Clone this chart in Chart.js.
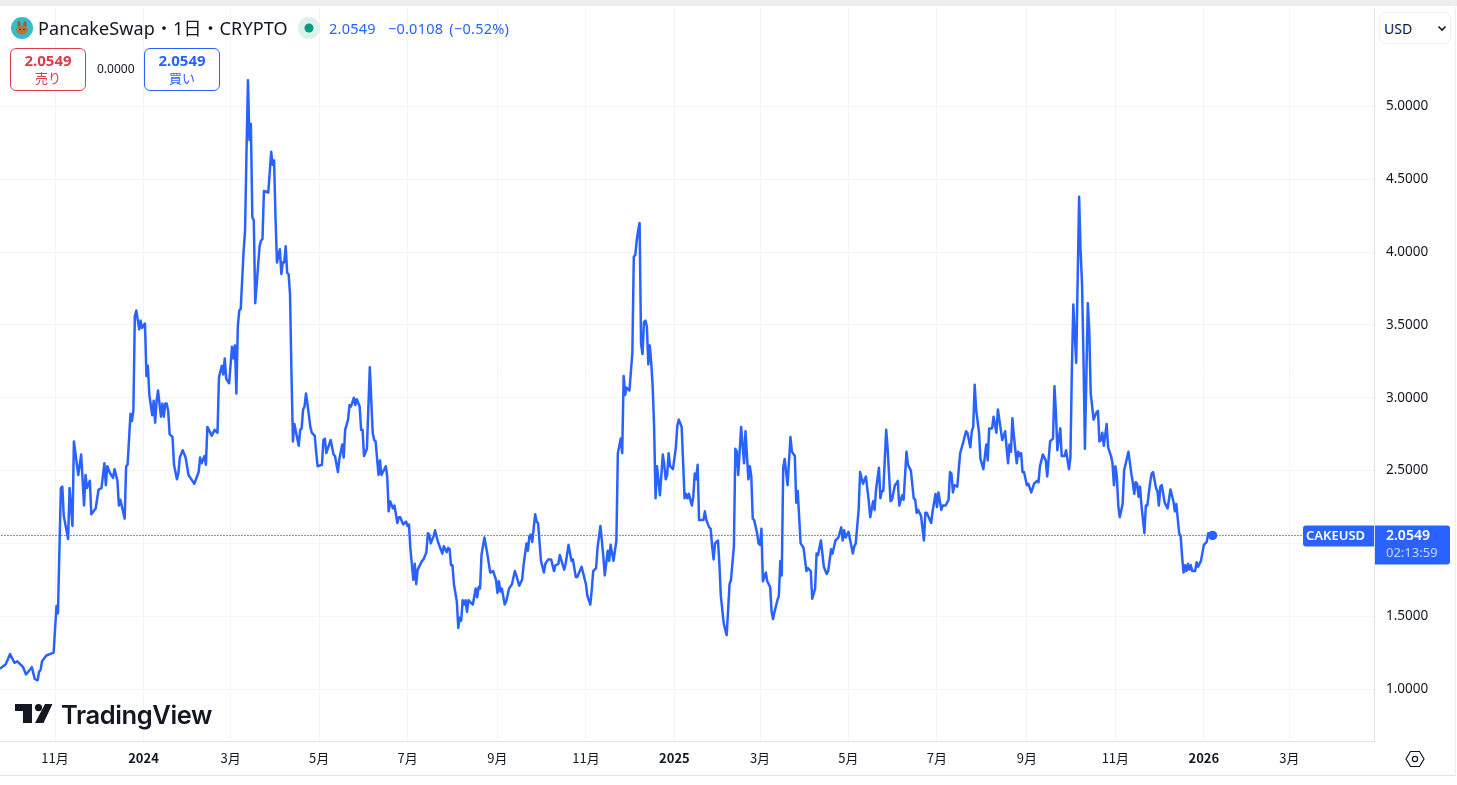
<!DOCTYPE html>
<html lang="ja">
<head>
<meta charset="utf-8">
<title>CAKEUSD</title>
<script src="https://cdn.jsdelivr.net/npm/chart.js@4/dist/chart.umd.min.js"></script>
<style>
  html, body { margin: 0; padding: 0; background: #fff; width: 1457px; height: 785px; overflow: hidden; }
  body { position: relative; font-family: "Noto Sans", "Noto Sans CJK JP", sans-serif; color: #131722; }
  /* the x axis keeps a small left gutter for its first label, so the canvas sits that far off the page */
  canvas { position: absolute; left: -7px; top: 0; }
  .abs { position: absolute; white-space: nowrap; }
  #band { left: 0; top: 0; width: 1457px; height: 6px; background: #eeeeee; }
  #bottom-line { left: 0; top: 775px; width: 1455px; height: 1px; background: #e0e3eb; }
  #right-line { left: 1455px; top: 6px; width: 1px; height: 770px; background: #eeeeee; }
  #title { left: 38px; top: 16px; font-size: 18px; line-height: 24px; letter-spacing: 0.1px; }
  #change { left: 329px; top: 18px; font-size: 14.5px; line-height: 20px; color: #2962ff; word-spacing: 2px; letter-spacing: 0.25px; }
  .box { width: 74px; height: 41px; top: 48px; border-radius: 6px; background: #fff; border: 1px solid; text-align: center; }
  .box b { display: block; font-size: 15px; line-height: 17px; margin-top: 3px; }
  .box span { display: block; font-size: 13px; line-height: 18px; font-family: "Noto Sans CJK JP", sans-serif; }
  #sell { left: 10px; border-color: #dc3d4b; color: #dc3d4b; }
  #buy { left: 144px; border-color: #2962ff; color: #2962ff; }
  #spread { left: 97px; top: 60px; font-size: 12px; line-height: 18px; }
  #usd { left: 1379px; top: 12px; width: 70px; height: 30px; border: 1px solid #eceef2; border-radius: 6px; background: #fff; font-size: 14px; line-height: 32px; text-indent: 4px; }
  #tv { left: 61px; top: 698px; font-family: Inter, sans-serif; font-weight: 600; font-size: 25.5px; line-height: 34px; letter-spacing: -0.4px; color: #131722; }
</style>
</head>
<body>
<canvas id="chart" width="1464" height="785"></canvas>
<div class="abs" id="band"></div>
<div class="abs" id="bottom-line"></div>
<div class="abs" id="right-line"></div>

<svg class="abs" style="left:11px;top:17px" width="22" height="22" viewBox="0 0 22 22">
  <circle cx="11" cy="11" r="11" fill="#34bcc8"/>
  <ellipse cx="8" cy="7.5" rx="1.6" ry="3.5" fill="#9a5f35"/>
  <ellipse cx="14" cy="7.5" rx="1.6" ry="3.5" fill="#9a5f35"/>
  <ellipse cx="11" cy="13" rx="5.8" ry="4.6" fill="#b5763f"/>
  <circle cx="9" cy="12.5" r=".8" fill="#3a2416"/>
  <circle cx="13" cy="12.5" r=".8" fill="#3a2416"/>
</svg>
<div class="abs" id="title">PancakeSwap・1日・CRYPTO</div>
<svg class="abs" style="left:298px;top:17px" width="22" height="22" viewBox="0 0 22 22">
  <circle cx="11" cy="11" r="11" fill="#dcf0ec"/>
  <circle cx="11" cy="11" r="4.5" fill="#089981"/>
</svg>
<div class="abs" id="change">2.0549 &nbsp;−0.0108 (−0.52%)</div>
<div class="abs box" id="sell"><b>2.0549</b><span>売り</span></div>
<div class="abs" id="spread">0.0000</div>
<div class="abs box" id="buy"><b>2.0549</b><span>買い</span></div>
<div class="abs" id="usd">USD</div>
<svg class="abs" style="left:1437px;top:25px" width="10" height="7" viewBox="0 0 10 7">
  <path d="M1.5 1.5 L5 5 L8.5 1.5" fill="none" stroke="#131722" stroke-width="1.6"/>
</svg>

<svg class="abs" style="left:14px;top:703px" width="40" height="22" viewBox="0 0 40 22">
  <path d="M1 1 H18 V20 H9 V8 H1 Z" fill="#131722"/>
  <circle cx="24.5" cy="4.6" r="3.6" fill="#131722"/>
  <path d="M31 1 H38.5 L29.5 20 H21 Z" fill="#131722"/>
</svg>
<div class="abs" id="tv">TradingView</div>

<svg class="abs" style="left:1405px;top:750px" width="20" height="18" viewBox="0 0 20 18">
  <path d="M5.5 1.5 H14.5 L19 9 L14.5 16.5 H5.5 L1 9 Z" fill="none" stroke="#131722" stroke-width="1.2"/>
  <circle cx="10" cy="9" r="2.6" fill="none" stroke="#131722" stroke-width="1.2"/>
</svg>

<script>
// Days since 2024-01-01 at each turning point
const days = [
  -99, -95, -92, -89, -87, -83, -81, -77, -75, -73, -72, -71,
  -70, -67, -62, -60, -59, -57, -56, -55, -52, -51, -49, -48,
  -45, -43, -41, -40, -39, -37, -36, -33, -31, -29, -27, -26,
  -25, -23, -21, -20, -18, -17, -16, -13, -12, -11, -9, -8,
  -7, -6, -5, -3, -2, -1, 1, 2, 3, 4, 6, 7,
  8, 9, 10, 12, 13, 14, 15, 16, 17, 18, 20, 21,
  23, 24, 25, 27, 29, 31, 33, 35, 38, 39, 40, 42,
  43, 44, 47, 49, 51, 52, 54, 55, 56, 57, 59, 61,
  62, 63, 64, 65, 66, 67, 69, 70, 71, 72, 73, 74,
  75, 76, 77, 80, 81, 82, 83, 86, 88, 89, 90, 91,
  92, 94, 95, 96, 97, 98, 99, 100, 101, 102, 103, 104,
  107, 108, 109, 110, 111, 112, 113, 115, 116, 118, 119, 120,
  123, 124, 125, 126, 129, 131, 132, 134, 135, 137, 138, 139,
  141, 142, 143, 145, 146, 147, 149, 150, 151, 152, 154, 156,
  158, 159, 160, 162, 163, 164, 167, 168, 169, 170, 172, 173,
  175, 176, 177, 179, 181, 182, 183, 184, 186, 187, 188, 189,
  192, 193, 195, 196, 197, 198, 200, 201, 203, 206, 207, 209,
  210, 211, 212, 213, 214, 216, 217, 218, 219, 220, 221, 222,
  223, 224, 225, 227, 229, 230, 231, 232, 233, 235, 237, 239,
  241, 243, 244, 245, 246, 247, 249, 250, 252, 254, 256, 257,
  259, 261, 262, 264, 265, 266, 267, 268, 270, 271, 272, 274,
  276, 277, 279, 281, 283, 284, 286, 287, 290, 291, 293, 295,
  296, 298, 299, 302, 303, 305, 306, 308, 309, 310, 312, 313,
  315, 317, 318, 320, 321, 322, 324, 326, 327, 329, 330, 331,
  332, 333, 335, 337, 338, 339, 340, 341, 342, 343, 344, 345,
  346, 347, 348, 349, 350, 351, 352, 353, 354, 356, 358, 359,
  360, 361, 362, 363, 365, 367, 368, 369, 371, 373, 374, 375,
  376, 378, 379, 380, 381, 382, 383, 386, 387, 388, 390, 391,
  392, 393, 394, 396, 397, 398, 400, 402, 403, 404, 405, 407,
  408, 409, 410, 412, 414, 415, 417, 418, 419, 420, 421, 423,
  424, 425, 426, 427, 429, 430, 432, 433, 434, 435, 437, 438,
  439, 440, 441, 442, 444, 446, 447, 449, 450, 451, 453, 455,
  457, 458, 460, 461, 463, 464, 465, 467, 469, 471, 472, 474,
  475, 477, 479, 481, 482, 483, 484, 486, 489, 490, 491, 493,
  494, 496, 498, 500, 501, 503, 504, 505, 507, 508, 509, 510,
  512, 513, 515, 516, 518, 519, 520, 521, 523, 524, 526, 527,
  529, 531, 532, 533, 534, 536, 538, 539, 540, 543, 544, 546,
  547, 548, 550, 551, 553, 555, 556, 557, 558, 559, 561, 563,
  565, 567, 568, 570, 571, 572, 573, 574, 576, 577, 579, 581,
  582, 583, 585, 586, 588, 589, 592, 594, 596, 597, 598, 599,
  600, 602, 603, 604, 605, 606, 607, 609, 610, 612, 614, 616,
  617, 618, 620, 622, 623, 625, 627, 628, 629, 630, 632, 633,
  635, 636, 638, 639, 640, 641, 643, 645, 646, 647, 648, 649,
  651, 652, 653, 655, 657, 658, 659, 660, 661, 662, 664, 665,
  667, 668, 669, 670, 671, 672, 673, 675, 676, 679, 681, 682,
  683, 684, 685, 686, 687, 688, 690, 691, 692, 694, 695, 696,
  698, 699, 700, 701, 702, 704, 706, 708, 710, 711, 712, 714,
  715, 716, 717, 718, 719, 720, 721, 722, 723, 725, 726, 727,
  729, 731, 733, 734, 735, 736, 737
];

const closes = [
  1.14, 1.17, 1.24, 1.18, 1.19, 1.15, 1.10, 1.15, 1.07, 1.06, 1.12, 1.13,
  1.19, 1.23, 1.25, 1.57, 1.52, 2.38, 2.39, 2.19, 2.03, 2.38, 2.12, 2.70,
  2.47, 2.61, 2.26, 2.47, 2.38, 2.43, 2.20, 2.24, 2.37, 2.38, 2.55, 2.40,
  2.53, 2.48, 2.45, 2.51, 2.43, 2.26, 2.30, 2.17, 2.53, 2.54, 2.89, 2.84,
  2.91, 3.56, 3.60, 3.47, 3.53, 3.48, 3.51, 3.15, 3.22, 3.02, 2.88, 2.98,
  2.83, 2.98, 3.05, 2.87, 2.96, 2.87, 2.96, 2.96, 2.91, 2.75, 2.73, 2.54,
  2.44, 2.48, 2.59, 2.64, 2.59, 2.47, 2.44, 2.41, 2.49, 2.59, 2.55, 2.60,
  2.54, 2.80, 2.74, 2.78, 2.76, 3.14, 3.22, 3.16, 3.27, 3.13, 3.10, 3.35,
  3.27, 3.36, 3.03, 3.49, 3.60, 3.61, 4.01, 4.15, 4.70, 5.18, 4.77, 4.88,
  4.24, 4.22, 3.65, 4.04, 4.08, 4.09, 4.42, 4.41, 4.69, 4.60, 4.63, 4.23,
  3.93, 4.02, 3.85, 3.93, 3.93, 4.04, 3.86, 3.85, 3.71, 3.16, 2.70, 2.82,
  2.67, 2.78, 2.79, 2.92, 2.94, 3.03, 2.96, 2.80, 2.76, 2.74, 2.63, 2.53,
  2.54, 2.71, 2.72, 2.62, 2.71, 2.61, 2.60, 2.49, 2.58, 2.68, 2.59, 2.78,
  2.85, 2.95, 2.94, 3.00, 2.95, 2.99, 2.94, 2.78, 2.78, 2.60, 2.65, 3.21,
  2.76, 2.71, 2.70, 2.47, 2.57, 2.47, 2.53, 2.46, 2.22, 2.29, 2.24, 2.26,
  2.14, 2.18, 2.18, 2.13, 2.15, 2.12, 2.13, 1.96, 1.75, 1.86, 1.72, 1.82,
  1.88, 1.89, 1.94, 2.07, 2.06, 2.00, 2.05, 2.09, 2.01, 1.93, 1.98, 1.94,
  1.97, 1.96, 1.85, 1.85, 1.72, 1.60, 1.42, 1.49, 1.47, 1.61, 1.58, 1.61,
  1.53, 1.61, 1.60, 1.58, 1.69, 1.63, 1.70, 1.69, 1.92, 2.04, 1.93, 1.80,
  1.81, 1.75, 1.66, 1.74, 1.67, 1.69, 1.58, 1.60, 1.69, 1.72, 1.81, 1.78,
  1.71, 1.75, 1.85, 2.00, 1.95, 2.05, 2.06, 2.01, 2.20, 2.15, 2.14, 1.88,
  1.80, 1.86, 1.89, 1.89, 1.81, 1.85, 1.86, 1.92, 1.82, 1.86, 1.99, 1.88,
  1.89, 1.77, 1.77, 1.84, 1.80, 1.72, 1.64, 1.58, 1.68, 1.81, 1.83, 1.97,
  2.12, 1.91, 1.78, 1.95, 1.88, 1.99, 1.88, 2.02, 2.62, 2.72, 2.62, 3.15,
  3.02, 3.07, 3.05, 3.31, 3.97, 3.98, 4.08, 4.15, 4.20, 3.37, 3.30, 3.52,
  3.53, 3.49, 3.23, 3.36, 3.24, 3.08, 2.80, 2.31, 2.53, 2.33, 2.61, 2.54,
  2.44, 2.47, 2.62, 2.53, 2.51, 2.66, 2.81, 2.85, 2.80, 2.31, 2.34, 2.31,
  2.34, 2.26, 2.32, 2.48, 2.44, 2.54, 2.16, 2.16, 2.22, 2.16, 2.11, 2.10,
  1.98, 1.89, 2.00, 2.02, 1.86, 1.64, 1.45, 1.37, 1.54, 1.72, 1.75, 1.98,
  2.65, 2.63, 2.47, 2.80, 2.55, 2.77, 2.44, 2.53, 2.46, 2.17, 2.16, 2.07,
  2.00, 1.99, 2.10, 1.74, 1.80, 1.74, 1.70, 1.53, 1.48, 1.53, 1.61, 1.64,
  1.88, 1.78, 2.52, 2.58, 2.40, 2.73, 2.63, 2.60, 2.28, 2.36, 2.00, 1.97,
  1.81, 1.83, 1.81, 1.62, 1.69, 1.93, 1.92, 2.02, 1.84, 1.79, 1.81, 1.96,
  1.93, 2.02, 2.04, 2.11, 2.02, 2.09, 2.04, 2.08, 1.93, 1.98, 2.00, 2.23,
  2.49, 2.41, 2.46, 2.29, 2.18, 2.29, 2.23, 2.37, 2.52, 2.31, 2.36, 2.36,
  2.78, 2.65, 2.29, 2.30, 2.40, 2.41, 2.43, 2.26, 2.33, 2.30, 2.63, 2.54,
  2.50, 2.31, 2.30, 2.21, 2.23, 2.19, 2.02, 2.21, 2.21, 2.14, 2.22, 2.34,
  2.25, 2.35, 2.23, 2.26, 2.26, 2.30, 2.49, 2.48, 2.35, 2.40, 2.39, 2.62,
  2.69, 2.77, 2.76, 2.66, 2.77, 2.80, 3.09, 2.92, 2.76, 2.58, 2.51, 2.68,
  2.57, 2.79, 2.79, 2.87, 2.76, 2.92, 2.71, 2.77, 2.55, 2.68, 2.63, 2.86,
  2.74, 2.55, 2.63, 2.60, 2.62, 2.49, 2.49, 2.40, 2.41, 2.35, 2.41, 2.43,
  2.42, 2.53, 2.61, 2.57, 2.46, 2.70, 2.72, 3.08, 2.90, 2.64, 2.79, 2.60,
  2.60, 2.64, 2.51, 2.59, 3.19, 3.64, 3.24, 4.38, 4.01, 3.79, 3.28, 2.65,
  3.65, 3.46, 3.03, 2.85, 2.90, 2.91, 2.70, 2.71, 2.76, 2.67, 2.82, 2.66,
  2.60, 2.55, 2.40, 2.53, 2.46, 2.26, 2.18, 2.27, 2.50, 2.63, 2.48, 2.42,
  2.34, 2.42, 2.41, 2.32, 2.39, 2.26, 2.07, 2.26, 2.26, 2.42, 2.48, 2.49,
  2.38, 2.36, 2.26, 2.39, 2.40, 2.28, 2.24, 2.37, 2.29, 2.22, 2.27, 2.07,
  2.05, 1.91, 1.80, 1.85, 1.81, 1.86, 1.82, 1.85, 1.81, 1.81, 1.87, 1.84,
  1.88, 1.99, 2.01, 2.07, 2.05, 2.07, 2.0549
];

const lastPrice = 2.0549;
const lastPriceDays = [-100, 799];
const priceTicks = [1, 1.5, 2, 2.5, 3, 3.5, 4, 4.5, 5];
const monthTickDays = [-61, 0, 60, 121, 182, 244, 305, 366, 425, 486, 547, 609, 670, 731, 790];
const monthTickLabels = ['11月', '2024', '3月', '5月', '7月', '9月', '11月', '2025', '3月', '5月', '7月', '9月', '11月', '2026', '3月'];
const yearTickDays = [0, 366, 731];
const symbolLabel = 'CAKEUSD';
const countdownLabel = '02:13:59';

const BLUE = '#2962ff';
const GRID = '#f3f4f6';
const AXIS = '#e0e3eb';
const UI_FONT = '"Noto Sans", "Noto Sans CJK JP", sans-serif';

// Draws the symbol tag and the price/countdown tag on the last price
const lastPriceTags = {
  id: 'lastPriceTags',
  afterDraw(chart) {
    const { ctx, scales } = chart;
    const y = scales.y.getPixelForValue(lastPrice);
    const right = scales.x.right;
    ctx.save();
    ctx.fillStyle = BLUE;
    ctx.beginPath();
    ctx.roundRect(right - 71, y - 10, 71, 21, [3, 0, 0, 3]);
    ctx.fill();
    ctx.beginPath();
    ctx.roundRect(right + 1, y - 10, 75, 39, [0, 3, 3, 0]);
    ctx.fill();
    ctx.textBaseline = 'middle';
    ctx.fillStyle = '#fff';
    ctx.font = '600 13px ' + UI_FONT;
    ctx.textAlign = 'left';
    ctx.fillText(symbolLabel, right - 68, y + 0.5, 65);
    ctx.font = '600 14px ' + UI_FONT;
    ctx.fillText(lastPrice.toFixed(4), right + 12, y + 0.5);
    ctx.fillStyle = 'rgba(255,255,255,0.72)';
    ctx.font = '13px ' + UI_FONT;
    ctx.fillText(countdownLabel, right + 12, y + 18);
    ctx.restore();
  }
};

new Chart(document.getElementById('chart'), {
  type: 'line',
  data: {
    datasets: [
      {
        data: days.map((d, i) => ({ x: d, y: closes[i] })),
        borderColor: BLUE,
        backgroundColor: BLUE,
        borderWidth: 2.5,
        borderJoinStyle: 'round',
        tension: 0,
        pointRadius: ctx => (ctx.dataIndex === days.length - 1 ? 3.5 : 0),
        order: 1
      },
      {
        data: lastPriceDays.map(d => ({ x: d, y: lastPrice })),
        borderColor: '#131722',
        borderWidth: 1,
        borderDash: [1, 2],
        pointRadius: 0,
        order: 2
      }
    ]
  },
  options: {
    responsive: false,
    animation: false,
    layout: { padding: { left: 0, right: 0, top: 8, bottom: 10 } },
    plugins: { legend: { display: false }, tooltip: { enabled: false } },
    scales: {
      x: {
        type: 'linear',
        min: -99.3,
        max: 848.3,
        afterFit: axis => {
          axis.height = 34;
          axis.paddingLeft = 0;
          axis.paddingRight = 0;
        },
        afterBuildTicks: axis => { axis.ticks = monthTickDays.map(value => ({ value })); },
        grid: { color: GRID, drawTicks: false },
        border: { color: AXIS },
        ticks: {
          autoSkip: false,
          maxRotation: 0,
          padding: 9,
          color: '#131722',
          font: ctx => ({
            family: '"Noto Sans CJK JP", "Noto Sans", sans-serif',
            size: 13,
            weight: ctx.tick && yearTickDays.includes(ctx.tick.value) ? 'bold' : 'normal'
          }),
          callback: (value, index) => monthTickLabels[index]
        }
      },
      y: {
        position: 'right',
        min: 0.643,
        max: 5.677,
        afterFit: axis => {
          axis.width = 83;
          axis.paddingTop = 0;
          axis.paddingBottom = 0;
        },
        afterBuildTicks: axis => { axis.ticks = priceTicks.map(value => ({ value })); },
        grid: { color: GRID, drawTicks: false },
        border: { color: AXIS },
        ticks: {
          padding: 12,
          color: '#131722',
          font: { family: UI_FONT, size: 13.5 },
          callback: value => value.toFixed(4)
        }
      }
    }
  },
  plugins: [lastPriceTags]
});
</script>
</body>
</html>
